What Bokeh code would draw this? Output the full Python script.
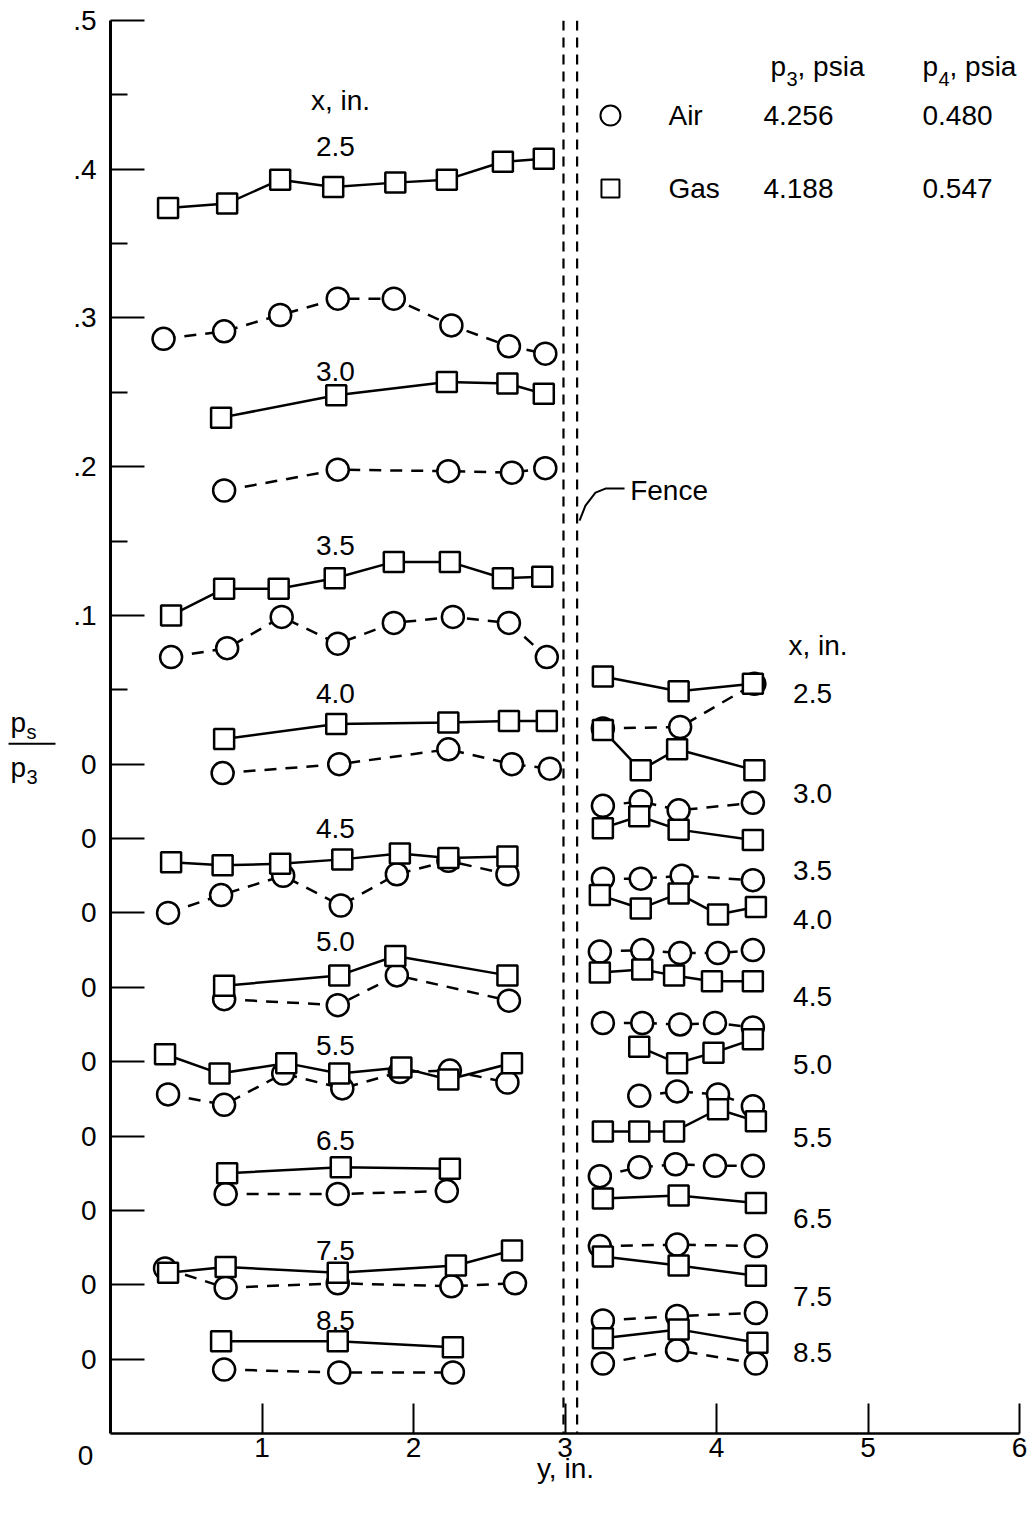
from bokeh.plotting import figure
from bokeh.models import Range1d, FixedTicker, CustomJSTickFormatter, Span
from bokeh.core.properties import value
from bokeh.embed import file_html
from bokeh.resources import INLINE

FONT = "Liberation Sans"

# ---------------- data (y, in. ; plotted p_s/p_3 with station offsets) ----------------
# Upstream of fence (y < 3 in.)
gas_L25_x = [0.38, 0.77, 1.12, 1.47, 1.88, 2.22, 2.59, 2.86]
gas_L25_y = [0.374, 0.377, 0.393, 0.388, 0.391, 0.393, 0.405, 0.407]
air_L25_x = [0.35, 0.75, 1.12, 1.50, 1.87, 2.25, 2.63, 2.87]
air_L25_y = [0.286, 0.291, 0.302, 0.313, 0.313, 0.295, 0.281, 0.276]

gas_L30_x = [0.73, 1.49, 2.22, 2.62, 2.86]
gas_L30_y = [0.233, 0.248, 0.257, 0.256, 0.249]
air_L30_x = [0.75, 1.50, 2.23, 2.65, 2.87]
air_L30_y = [0.184, 0.198, 0.197, 0.196, 0.199]

gas_L35_x = [0.40, 0.75, 1.11, 1.48, 1.87, 2.24, 2.59, 2.85]
gas_L35_y = [0.100, 0.118, 0.118, 0.125, 0.136, 0.136, 0.125, 0.126]
air_L35_x = [0.40, 0.77, 1.13, 1.50, 1.87, 2.26, 2.63, 2.88]
air_L35_y = [0.072, 0.078, 0.099, 0.081, 0.095, 0.099, 0.095, 0.072]

gas_L40_x = [0.75, 1.49, 2.23, 2.63, 2.88]
gas_L40_y = [0.017, 0.027, 0.028, 0.029, 0.029]
air_L40_x = [0.74, 1.51, 2.23, 2.65, 2.90]
air_L40_y = [-0.006, 0.000, 0.010, 0.000, -0.003]

gas_L45_x = [0.40, 0.74, 1.12, 1.53, 1.91, 2.23, 2.62]
gas_L45_y = [-0.066, -0.068, -0.067, -0.064, -0.060, -0.063, -0.062]
air_L45_x = [0.38, 0.73, 1.14, 1.52, 1.89, 2.23, 2.62]
air_L45_y = [-0.100, -0.088, -0.075, -0.095, -0.074, -0.065, -0.074]

gas_L50_x = [0.75, 1.51, 1.88, 2.62]
gas_L50_y = [-0.149, -0.142, -0.129, -0.142]
air_L50_x = [0.75, 1.50, 1.89, 2.63]
air_L50_y = [-0.158, -0.162, -0.142, -0.159]

gas_L55_x = [0.36, 0.72, 1.16, 1.51, 1.92, 2.23, 2.65]
gas_L55_y = [-0.195, -0.208, -0.201, -0.208, -0.204, -0.212, -0.201]
air_L55_x = [0.38, 0.75, 1.14, 1.53, 1.91, 2.24, 2.62]
air_L55_y = [-0.222, -0.229, -0.208, -0.218, -0.207, -0.206, -0.214]

gas_L65_x = [0.77, 1.52, 2.24]
gas_L65_y = [-0.275, -0.271, -0.272]
air_L65_x = [0.76, 1.50, 2.22]
air_L65_y = [-0.289, -0.289, -0.287]

gas_L75_x = [0.38, 0.76, 1.50, 2.28, 2.65]
gas_L75_y = [-0.342, -0.338, -0.342, -0.337, -0.327]
air_L75_x = [0.36, 0.76, 1.50, 2.25, 2.67]
air_L75_y = [-0.339, -0.352, -0.349, -0.351, -0.349]

gas_L85_x = [0.73, 1.50, 2.26]
gas_L85_y = [-0.388, -0.388, -0.392]
air_L85_x = [0.75, 1.51, 2.26]
air_L85_y = [-0.407, -0.409, -0.409]

# Downstream of fence (y > 3 in.)
gas_R25_x = [3.25, 3.75, 4.24]
gas_R25_y = [0.059, 0.049, 0.054]
air_R25_x = [3.25, 3.76, 4.25]
air_R25_y = [0.024, 0.025, 0.054]

gas_R30_x = [3.25, 3.50, 3.74, 4.25]
gas_R30_y = [0.023, -0.004, 0.010, -0.004]
air_R30_x = [3.25, 3.50, 3.75, 4.24]
air_R30_y = [-0.028, -0.025, -0.031, -0.026]

gas_R35_x = [3.25, 3.49, 3.75, 4.24]
gas_R35_y = [-0.043, -0.035, -0.044, -0.051]
air_R35_x = [3.25, 3.50, 3.77, 4.24]
air_R35_y = [-0.077, -0.077, -0.075, -0.078]

gas_R40_x = [3.23, 3.50, 3.75, 4.01, 4.26]
gas_R40_y = [-0.088, -0.097, -0.087, -0.101, -0.096]
air_R40_x = [3.23, 3.51, 3.76, 4.01, 4.24]
air_R40_y = [-0.126, -0.125, -0.127, -0.127, -0.125]

gas_R45_x = [3.23, 3.51, 3.72, 3.97, 4.24]
gas_R45_y = [-0.140, -0.138, -0.142, -0.146, -0.146]
air_R45_x = [3.25, 3.51, 3.76, 3.99, 4.24]
air_R45_y = [-0.174, -0.174, -0.175, -0.174, -0.177]

gas_R50_x = [3.49, 3.74, 3.98, 4.24]
gas_R50_y = [-0.190, -0.201, -0.194, -0.185]
air_R50_x = [3.49, 3.74, 4.01, 4.24]
air_R50_y = [-0.223, -0.220, -0.222, -0.230]

gas_R55_x = [3.25, 3.49, 3.72, 4.01, 4.26]
gas_R55_y = [-0.247, -0.247, -0.247, -0.232, -0.240]
air_R55_x = [3.23, 3.49, 3.73, 3.99, 4.24]
air_R55_y = [-0.277, -0.271, -0.269, -0.270, -0.270]

gas_R65_x = [3.25, 3.75, 4.26]
gas_R65_y = [-0.292, -0.290, -0.295]
air_R65_x = [3.23, 3.74, 4.26]
air_R65_y = [-0.324, -0.323, -0.324]

gas_R75_x = [3.25, 3.75, 4.26]
gas_R75_y = [-0.331, -0.337, -0.344]
air_R75_x = [3.25, 3.74, 4.26]
air_R75_y = [-0.374, -0.371, -0.369]

gas_R85_x = [3.25, 3.75, 4.27]
gas_R85_y = [-0.386, -0.380, -0.389]
air_R85_x = [3.25, 3.74, 4.26]
air_R85_y = [-0.403, -0.394, -0.403]

stations = ["2.5", "3.0", "3.5", "4.0", "4.5", "5.0", "5.5", "6.5", "7.5", "8.5"]
fence_x = [2.99, 3.08]

y_major_ticks = [0.5, 0.4, 0.3, 0.2, 0.1, 0.0, -0.05, -0.10, -0.15, -0.20, -0.25, -0.30, -0.35, -0.40]
y_minor_ticks = [0.45, 0.35, 0.25, 0.15, 0.05]
x_ticks = [1, 2, 3, 4, 5, 6]

legend_rows = [("Air", "4.256", "0.480"), ("Gas", "4.188", "0.547")]

gas_series = [(gas_L25_x, gas_L25_y), (gas_L30_x, gas_L30_y), (gas_L35_x, gas_L35_y),
              (gas_L40_x, gas_L40_y), (gas_L45_x, gas_L45_y), (gas_L50_x, gas_L50_y),
              (gas_L55_x, gas_L55_y), (gas_L65_x, gas_L65_y), (gas_L75_x, gas_L75_y),
              (gas_L85_x, gas_L85_y),
              (gas_R25_x, gas_R25_y), (gas_R30_x, gas_R30_y), (gas_R35_x, gas_R35_y),
              (gas_R40_x, gas_R40_y), (gas_R45_x, gas_R45_y), (gas_R50_x, gas_R50_y),
              (gas_R55_x, gas_R55_y), (gas_R65_x, gas_R65_y), (gas_R75_x, gas_R75_y),
              (gas_R85_x, gas_R85_y)]
air_series = [(air_L25_x, air_L25_y), (air_L30_x, air_L30_y), (air_L35_x, air_L35_y),
              (air_L40_x, air_L40_y), (air_L45_x, air_L45_y), (air_L50_x, air_L50_y),
              (air_L55_x, air_L55_y), (air_L65_x, air_L65_y), (air_L75_x, air_L75_y),
              (air_L85_x, air_L85_y),
              (air_R25_x, air_R25_y), (air_R30_x, air_R30_y), (air_R35_x, air_R35_y),
              (air_R40_x, air_R40_y), (air_R45_x, air_R45_y), (air_R50_x, air_R50_y),
              (air_R55_x, air_R55_y), (air_R65_x, air_R65_y), (air_R75_x, air_R75_y),
              (air_R85_x, air_R85_y)]

# ---------------- layout positions of annotations ----------------
left_label_x = 1.485
left_label_y = [0.4153, 0.2640, 0.1469, 0.0474, -0.0434, -0.1194, -0.1893, -0.2532, -0.3272, -0.3742]
right_label_x = 4.634
right_label_y = [0.0474, -0.0198, -0.0716, -0.1046, -0.1564, -0.2021, -0.2512, -0.3057, -0.3581, -0.3958]

FS = "28px"
SUB = "20px"
LW = 2.5

p = figure(width=1030, height=1500, x_range=Range1d(0, 6), y_range=Range1d(-0.45, 0.5),
           output_backend="svg", toolbar_location=None,
           min_border_left=110, min_border_right=11, min_border_top=20, min_border_bottom=67)
p.outline_line_color = None
p.grid.visible = False
p.background_fill_color = "white"
p.border_fill_color = "white"

# axes
xa = p.xaxis[0]
xa.ticker = FixedTicker(ticks=x_ticks, minor_ticks=[])
xa.major_tick_in = 30
xa.major_tick_out = 0
xa.minor_tick_in = 0
xa.minor_tick_out = 0
xa.axis_line_width = 2.5
xa.major_tick_line_width = 2
xa.axis_line_color = "black"
xa.major_tick_line_color = "black"
xa.major_label_standoff = 4
xa.major_label_text_font = FONT
xa.major_label_text_font_size = FS
xa.major_label_text_color = "black"

ya = p.yaxis[0]
ya.ticker = FixedTicker(ticks=y_major_ticks, minor_ticks=y_minor_ticks)
ya.formatter = CustomJSTickFormatter(code="return tick > 0.001 ? tick.toFixed(1).replace(/^0/, '') : '0';")
ya.major_tick_in = 34
ya.major_tick_out = 0
ya.minor_tick_in = 17
ya.minor_tick_out = 0
ya.axis_line_width = 3
ya.major_tick_line_width = 2
ya.minor_tick_line_width = 2
ya.axis_line_color = "black"
ya.major_tick_line_color = "black"
ya.minor_tick_line_color = "black"
ya.major_label_standoff = 14
ya.major_label_text_font = FONT
ya.major_label_text_font_size = FS
ya.major_label_text_color = "black"

# fence (two dashed vertical lines)
for fx in fence_x:
    p.add_layout(Span(location=fx, dimension="height", line_color="black",
                      line_width=2.2, line_dash="10 7"))

# curves
for xs, ys in air_series:
    p.line(xs, ys, line_color="black", line_width=LW, line_dash="12 9")
for xs, ys in gas_series:
    p.line(xs, ys, line_color="black", line_width=LW)
for xs, ys in air_series:
    p.scatter(xs, ys, marker="circle", size=22, fill_color="white",
              line_color="black", line_width=LW)
for xs, ys in gas_series:
    p.scatter(xs, ys, marker="square", size=20, fill_color="white",
              line_color="black", line_width=LW)


def lab(x, y, text, size=FS, align="center", baseline="middle"):
    r = p.text(x=[x], y=[y], text=[text], text_font=value(FONT), text_font_size=size,
               text_align=align, text_baseline=baseline, text_color="black")
    r.level = "overlay"
    return r


# station labels
lab(1.518, 0.4462, "x, in.")
for s, yy in zip(stations, left_label_y):
    lab(left_label_x, yy, s)
lab(4.670, 0.0797, "x, in.")
for s, yy in zip(stations, right_label_y):
    lab(right_label_x, yy, s)

# fence label and leader
p.line([3.096, 3.135, 3.201, 3.267, 3.393], [0.1638, 0.1738, 0.1826, 0.1853, 0.1853],
       line_color="black", line_width=2)
lab(3.43, 0.1839, "Fence", align="left")

# legend table
head_y, head_sub_y = 0.4691, 0.4610
lab(4.356, head_y, "p", align="left")
lab(4.462, head_sub_y, "3", size=SUB, align="left")
lab(4.535, head_y, ", psia", align="left")
lab(5.360, head_y, "p", align="left")
lab(5.465, head_sub_y, "4", size=SUB, align="left")
lab(5.538, head_y, ", psia", align="left")
row_y = [0.4361, 0.3870]
p.scatter([3.30], [row_y[0]], marker="circle", size=20, fill_color="white",
          line_color="black", line_width=2)
p.scatter([3.30], [row_y[1]], marker="square", size=18, fill_color="white",
          line_color="black", line_width=2)
for (name, p3v, p4v), yy in zip(legend_rows, row_y):
    lab(3.683, yy, name, align="left")
    lab(4.541, yy, p3v)
    lab(5.591, yy, p4v)

# axis titles
lab(3.003, -0.4738, "y, in.")
lab(-0.165, -0.465, "0")
lab(-0.660, 0.0279, "p", align="left")
lab(-0.554, 0.0218, "s", size=SUB, align="left")
lab(-0.660, -0.0024, "p", align="left")
lab(-0.554, -0.0084, "3", size=SUB, align="left")
bar = p.line([-0.673, -0.363], [0.0138, 0.0138], line_color="black", line_width=2)
bar.level = "overlay"

open("out.html", "w").write(file_html(p, INLINE))
